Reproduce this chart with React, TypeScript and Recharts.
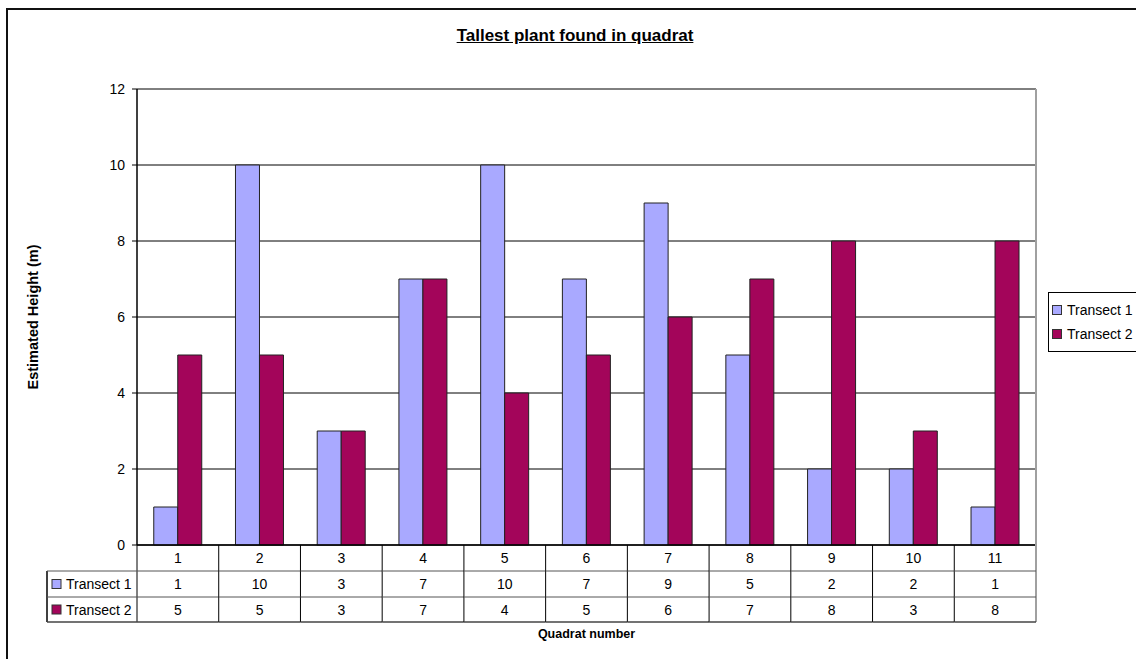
import React from 'react';
import { BarChart, Bar, XAxis, YAxis, CartesianGrid, Legend, Label } from 'recharts';

const quadrats = ['1', '2', '3', '4', '5', '6', '7', '8', '9', '10', '11'];
const transect1 = [1, 10, 3, 7, 10, 7, 9, 5, 2, 2, 1];
const transect2 = [5, 5, 3, 7, 4, 5, 6, 7, 8, 3, 8];
const seriesNames = ['Transect 1', 'Transect 2'];
const seriesKeys = ['t1', 't2'];
const seriesColors = ['#A9A9FF', '#A3055A'];
const seriesValues = [transect1, transect2];
const yTicks = [0, 2, 4, 6, 8, 10, 12];
const chartTitle = 'Tallest plant found in quadrat';
const yTitle = 'Estimated Height (m)';
const xTitle = 'Quadrat number';

const data = quadrats.map((q, i) => ({ q, t1: transect1[i], t2: transect2[i] }));

const W = 1136;
const H = 659;
const M = { top: 89, right: 100, left: 0, bottom: 0 };
const YW = 137;
const XH = 114;
const PLOT_H = H - M.top - M.bottom - XH;
const BW = (W - YW - M.left - M.right) / quadrats.length;
const ROWS = [0, 26, 52, 77];
const HEAD_W = 90;
const FONT = '"Liberation Sans", Arial, sans-serif';
const FS = 14;

const TableTick = (props: any) => {
  const { x, y, payload } = props;
  const i: number = props.index ?? payload.index;
  const top = y;
  const left = x - BW / 2;
  const right = x + BW / 2;
  const last = i === quadrats.length - 1;
  const els: any[] = [];
  els.push(<line key="vl" x1={left} x2={left} y1={top} y2={top + ROWS[3]} stroke="#000" strokeWidth={1} />);
  if (last) {
    els.push(<line key="vr" x1={right} x2={right} y1={top - PLOT_H} y2={top + ROWS[3]} stroke="#a0a0a0" strokeWidth={2} />);
  }
  [1, 2].forEach((r) => {
    els.push(<line key={'h' + r} x1={left} x2={right} y1={top + ROWS[r]} y2={top + ROWS[r]} stroke="#555" strokeWidth={1} />);
  });
  els.push(<line key="h3" x1={left} x2={right} y1={top + ROWS[3]} y2={top + ROWS[3]} stroke="#444" strokeWidth={1.5} />);
  els.push(
    <text key="c" x={x} y={top + (ROWS[0] + ROWS[1]) / 2} textAnchor="middle" dominantBaseline="central" fontSize={FS} fontFamily={FONT} fill="#000">
      {payload.value}
    </text>
  );
  seriesValues.forEach((vals, s) => {
    els.push(
      <text key={'v' + s} x={x} y={top + (ROWS[s + 1] + ROWS[s + 2]) / 2} textAnchor="middle" dominantBaseline="central" fontSize={FS} fontFamily={FONT} fill="#000">
        {vals[i]}
      </text>
    );
  });
  if (i === 0) {
    const hl = left - HEAD_W;
    els.push(<line key="hl" x1={hl} x2={hl} y1={top + ROWS[1]} y2={top + ROWS[3]} stroke="#000" strokeWidth={1.5} />);
    [1, 2].forEach((r) => {
      els.push(<line key={'hh' + r} x1={hl} x2={left} y1={top + ROWS[r]} y2={top + ROWS[r]} stroke="#555" strokeWidth={1} />);
    });
    els.push(<line key="hh3" x1={hl} x2={left} y1={top + ROWS[3]} y2={top + ROWS[3]} stroke="#444" strokeWidth={1.5} />);
    seriesNames.forEach((name, s) => {
      const cy = top + (ROWS[s + 1] + ROWS[s + 2]) / 2;
      els.push(<rect key={'k' + s} x={hl + 5} y={cy - 4.5} width={9} height={9} fill={seriesColors[s]} stroke="#333" strokeWidth={1} />);
      els.push(
        <text key={'n' + s} x={hl + 19} y={cy} dominantBaseline="central" fontSize={FS} fontFamily={FONT} fill="#000">
          {name}
        </text>
      );
    });
  }
  return <g>{els}</g>;
};

const LegendBox = () => (
  <div
    style={{
      border: '1px solid #000',
      background: '#fff',
      padding: '5px 20px 5px 3px',
      fontFamily: FONT,
      fontSize: FS,
      color: '#000',
      whiteSpace: 'nowrap',
      width: 'max-content',
    }}
  >
    {seriesNames.map((name, s) => (
      <div key={name} style={{ display: 'flex', alignItems: 'center', height: 24 }}>
        <span
          style={{
            display: 'inline-block',
            width: 8,
            height: 8,
            background: seriesColors[s],
            border: '1px solid #333',
            marginRight: 5,
          }}
        />
        <span>{name}</span>
      </div>
    ))}
  </div>
);

export default function App() {
  return (
    <div style={{ position: 'absolute', left: 0, top: 0, width: W, height: H, overflow: 'hidden', background: '#fff' }}>
      <div
        style={{
          position: 'absolute',
          left: 6,
          top: 8,
          width: 1300,
          height: 800,
          border: '2px solid #111',
          boxSizing: 'border-box',
        }}
      />
      <div
        style={{
          position: 'absolute',
          left: 0,
          top: 26,
          width: 1150,
          textAlign: 'center',
          fontFamily: FONT,
          fontWeight: 'bold',
          fontSize: 17,
          textDecoration: 'underline',
          color: '#000',
          lineHeight: '20px',
        }}
      >
        {chartTitle}
      </div>
      <div style={{ position: 'absolute', left: 0, top: 0 }}>
        <BarChart width={W} height={H} data={data} margin={M} barCategoryGap="20.5%" barGap={0}>
          <CartesianGrid horizontal vertical={false} stroke="#000" strokeWidth={1} />
          <XAxis
            dataKey="q"
            height={XH}
            axisLine={{ stroke: '#000', strokeWidth: 1.5 }}
            tickLine={false}
            tickSize={0}
            tickMargin={0}
            interval={0}
            tick={<TableTick />}
          >
            <Label
              content={(p: any) => {
                const vb = p.viewBox || {};
                return (
                  <text x={vb.x + vb.width / 2} y={634} textAnchor="middle" dominantBaseline="central" fontSize={12.5} fontWeight="bold" fontFamily={FONT} fill="#000">
                    {xTitle}
                  </text>
                );
              }}
            />
          </XAxis>
          <YAxis
            width={YW}
            domain={[0, 12]}
            ticks={yTicks}
            interval={0}
            axisLine={{ stroke: '#000', strokeWidth: 1.5 }}
            tickLine={{ stroke: '#000' }}
            tickSize={5}
            tickMargin={7}
            tick={{ fontSize: FS, fontFamily: FONT, fill: '#000' }}
          >
            <Label
              content={(p: any) => {
                const vb = p.viewBox || {};
                const cy = vb.y + vb.height / 2;
                return (
                  <text x={33} y={cy} transform={`rotate(-90, 33, ${cy})`} textAnchor="middle" dominantBaseline="central" fontSize={14.5} fontWeight="bold" fontFamily={FONT} fill="#000">
                    {yTitle}
                  </text>
                );
              }}
            />
          </YAxis>
          <Legend
            layout="horizontal"
            align="center"
            verticalAlign="middle"
            content={<LegendBox />}
            wrapperStyle={{ position: 'absolute', left: 1048, top: 292, width: 'auto', height: 'auto' }}
          />
          {seriesKeys.map((k, s) => (
            <Bar key={k} dataKey={k} name={seriesNames[s]} fill={seriesColors[s]} stroke="#222" strokeWidth={1} isAnimationActive={false} />
          ))}
        </BarChart>
      </div>
    </div>
  );
}
